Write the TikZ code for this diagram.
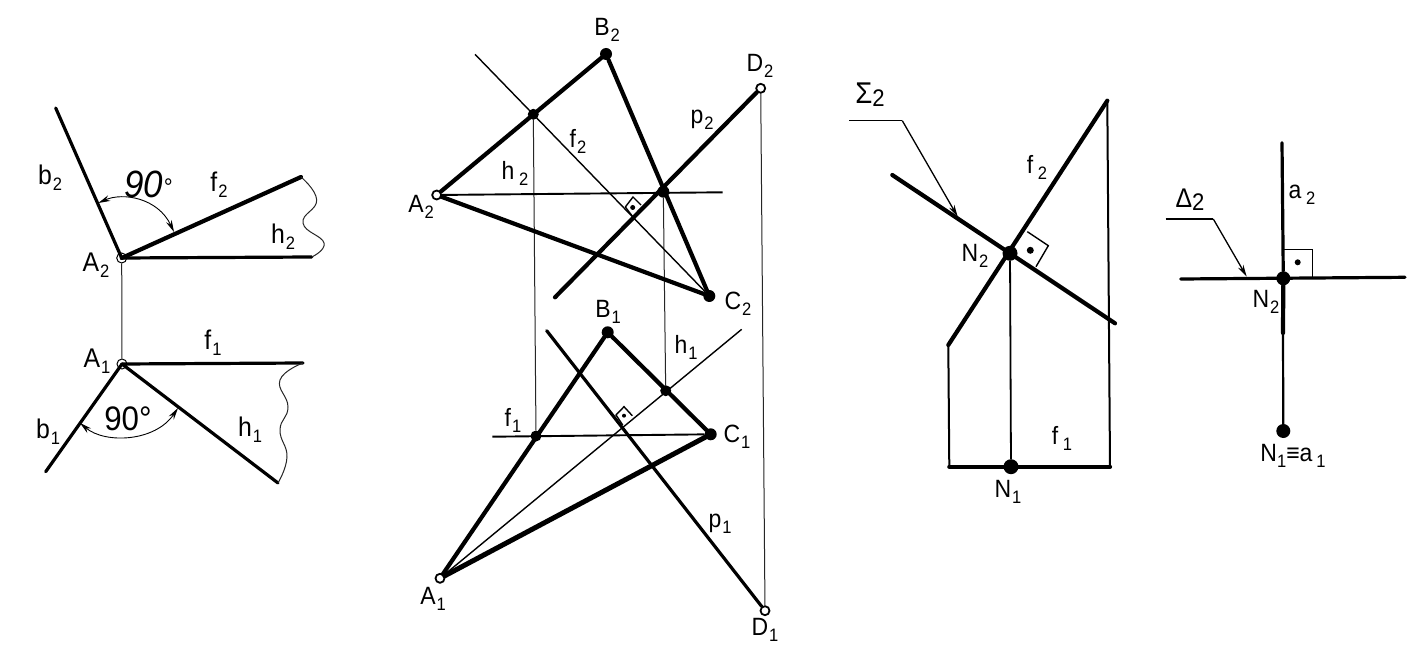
\documentclass[tikz,border=0pt]{standalone}
\usepackage{fontspec}
\setmainfont{Liberation Sans}
\usetikzlibrary{arrows.meta}
\newcommand{\lbl}[2]{{\fontsize{27}{27}\selectfont #1\hspace{1pt}\raisebox{-6pt}{\fontsize{18}{18}\selectfont #2}}}
\newcommand{\lbs}[2]{{\fontsize{25}{25}\selectfont #1\hspace{1pt}\raisebox{-6pt}{\fontsize{18}{18}\selectfont #2}}}
\tikzset{
  thickl/.style={line width=4.2pt,line cap=round,black},
  medl/.style={line width=3.2pt,line cap=round,black},
  thinl/.style={line width=1.4pt,black},
  hair/.style={line width=1pt,black!85},
  dotn/.style={circle,fill=black,inner sep=0pt,minimum size=#1},
  opn/.style={circle,draw=black,fill=white,line width=1.8pt,inner sep=0pt,minimum size=9pt},
  opt/.style={circle,draw=black,line width=1pt,inner sep=0pt,minimum size=10pt},
  txt/.style={inner sep=0pt,black,xscale=0.92},
  tip/.style={-{Stealth[length=12pt,width=6pt]},line width=1.3pt},
  arcl/.style={{Stealth[length=12pt,width=6pt]}-{Stealth[length=12pt,width=6pt]},line width=0.9pt},
}
\begin{document}
\begin{tikzpicture}[x=1pt,y=-1pt]
\useasboundingbox[fill=white] (0,0) rectangle (1422,660);
% --- first figure
\node[opt] (LA2) at (121.7,258) {};
\node[opt] (LA1) at (122,364) {};
\coordinate (Lb2) at (55.7,108);
\coordinate (Lf2) at (301,177);
\coordinate (Lh2) at (311.7,257);
\coordinate (Lf1) at (303,363);
\coordinate (Lb1) at (45.7,471.7);
\coordinate (Lh1) at (278,483);
\coordinate (Law) at (98.3,203);
\coordinate (Lax) at (174,232);
\coordinate (Lbw) at (80,423);
\coordinate (Lbx) at (178,408);
\draw[hair] (LA2) -- (LA1);
\draw[medl] (Lb2) -- (LA2.center);
\draw[thickl] (Lf2) -- (LA2.center);
\draw[medl] (Lh2) -- (LA2.center);
\draw[medl] (Lf1) -- (LA1.center);
\draw[medl] (Lb1) -- (LA1.center);
\draw[medl] (Lh1) -- (LA1.center);
\draw[hair] plot[smooth,tension=0.8] coordinates {(Lf2) (316.7,200) (303,223) (324,243) (Lh2)};
\draw[hair] plot[smooth,tension=0.8] coordinates {(Lf1) (280,380) (288,407) (280,430) (287,457) (Lh1)};
\draw[arcl] (Law) .. controls (123,192) and (158,198) .. (Lax);
\draw[arcl] (Lbw) .. controls (105,444) and (155,442) .. (Lbx);
\node[txt] (tb2) at (50,178) {\lbl{b}{2}};
\node[txt] (t90a) at (148,184) {\fontsize{38}{38}\selectfont\itshape 90\raisebox{2pt}{\fontsize{24}{24}\selectfont °}};
\node[txt] (tf2) at (219,185) {\lbl{f}{2}};
\node[txt] (th2) at (283,237) {\lbl{h}{2}};
\node[txt] (tA2) at (96,265) {\lbl{A}{2}};
\node[txt] (tf1) at (213,343) {\lbl{f}{1}};
\node[txt] (tA1) at (97,361) {\lbl{A}{1}};
\node[txt] (tb1) at (48,432) {\lbl{b}{1}};
\node[txt] (t90b) at (128,419) {\fontsize{34}{34}\selectfont 90°};
\node[txt] (th1) at (250,430) {\lbl{h}{1}};
% --- second figure
\node[opn] (A2) at (436.7,195) {};
\node[dotn=12pt] (B2) at (606,54) {};
\node[dotn=12pt] (C2) at (709.3,296) {};
\node[opn] (D2) at (760.7,88.3) {};
\node[dotn=11pt] (P2) at (533.3,114.3) {};
\node[dotn=12pt] (Q2) at (663.3,191.7) {};
\coordinate (f2t) at (475,54.3);
\coordinate (h2e) at (722.7,192.3);
\coordinate (p2e) at (555,297.3);
\node[opn] (A1) at (440,578.3) {};
\node[dotn=12pt] (B1) at (607.7,332.3) {};
\node[dotn=12pt] (C1) at (710.7,434.3) {};
\node[opn] (D1) at (765,610.7) {};
\node[dotn=11pt] (R1) at (536,436) {};
\node[dotn=11pt] (S1) at (665.7,390.7) {};
\coordinate (p1t) at (546.7,330.7);
\coordinate (h1e) at (741.7,329.3);
\coordinate (f1l) at (492.3,436.7);
\draw[hair] (P2) -- (R1);
\draw[hair] (Q2) -- (S1);
\draw[hair] (D2) -- (D1);
\draw[thickl] (A2) -- (B2);
\draw[thickl] (B2) -- (C2);
\draw[thickl] (A2) -- (C2);
\draw[thinl] (f2t) -- (C2);
\draw[line width=1.9pt] (A2) -- (h2e);
\draw[thickl] (D2) -- (p2e);
\draw[thickl] (A1) -- (B1);
\draw[thickl] (B1) -- (C1);
\draw[line width=5pt,line cap=round] (A1) -- (C1);
\draw[medl] (p1t) -- (D1);
\draw[thinl] (A1) -- (h1e);
\draw[line width=1.9pt] (f1l) -- (C1);
\draw[thinl] (625.3,207) -- (633,197) -- (641,205);
\draw[thinl] (633,217) -- (625.3,207);
\node[dotn=5pt] (m1) at (632.7,207.5) {};
\draw[thinl] (622.7,425) -- (616,415) -- (624,406.7) -- (632.3,415.7);
\node[dotn=4pt] (m2) at (624,415.7) {};
\node[txt] (tB2) at (607,30) {\lbs{B}{2}};
\node[txt] (tD2) at (760,66) {\lbs{D}{2}};
\node[txt] (tp2) at (702,120) {\lbs{p}{2}};
\node[txt] (tf2m) at (578,141) {\lbs{f}{2}};
\node[txt] (th2m) at (515,173) {\lbs{h\,}{2}};
\node[txt] (tA2m) at (421,207) {\lbs{A}{2}};
\node[txt] (tC2m) at (738,304) {\lbs{C}{2}};
\node[txt] (tB1m) at (608,312) {\lbs{B}{1}};
\node[txt] (th1m) at (686,347) {\lbs{h}{1}};
\node[txt] (tf1m) at (513,420) {\lbs{f}{1}};
\node[txt] (tC1m) at (737,437) {\lbs{C}{1}};
\node[txt] (tp1m) at (720,524) {\lbs{p}{1}};
\node[txt] (tA1m) at (433,599) {\lbs{A}{1}};
\node[txt] (tD1m) at (765,630) {\lbs{D}{1}};
% --- third figure
\node[dotn=15pt] (N2) at (1010,253.3) {};
\node[dotn=15pt] (N1) at (1011,466.7) {};
\coordinate (ft) at (1107.3,100.7);
\coordinate (fb) at (948.3,345);
\coordinate (bl) at (949.3,466.7);
\coordinate (br) at (1110,466.7);
\coordinate (s1) at (892.3,175);
\coordinate (s2) at (1115,323.3);
\coordinate (la) at (849.3,120.7);
\coordinate (lb) at (902.3,120.7);
\coordinate (lc) at (957.7,216.7);
\draw[thickl] (s1) -- (s2);
\draw[thickl] (ft) -- (fb);
\draw[line width=2pt,line join=miter] (fb) -- (bl);
\draw[thickl] (bl) -- (br);
\draw[line width=2pt] (ft) -- (br);
\draw[line width=1.8pt] (N2) -- (N1);
\draw[line width=1.4pt] (la) -- (lb);
\draw[tip] (lb) -- (lc);
\draw[thinl] (1027.3,231.7) -- (1048.3,245.7) -- (1036,266.7);
\node[dotn=7pt] (m3) at (1030.3,250.3) {};
\node[txt] (tS) at (870,95) {{\fontsize{30}{30}\selectfont Σ\raisebox{-3pt}{\fontsize{24}{24}\selectfont 2}}};
\node[txt] (tf2r) at (1037,167) {\lbs{f\,}{2}};
\node[txt] (tN2r) at (975,256) {\lbs{N}{2}};
\node[txt] (tf1r) at (1062,438) {\lbs{f\,}{1}};
\node[txt] (tN1r) at (1008,492) {\lbs{N}{1}};
% --- fourth figure
\node[dotn=14pt] (M2) at (1283.3,278.3) {};
\node[dotn=14pt] (M1) at (1283.3,431) {};
\coordinate (at) at (1282,142.7);
\coordinate (hl) at (1180.7,279);
\coordinate (hr) at (1405,277.3);
\coordinate (ll) at (1165.7,219);
\coordinate (lm) at (1213.3,219);
\coordinate (lt) at (1246.7,276.7);
\coordinate (am) at (1283,333);
\draw[medl] (hl) -- (hr);
\draw[medl] (at) -- (M2);
\draw[thickl] (M2) -- (am);
\draw[line width=2.2pt] (am) -- (M1);
\draw[line width=1.4pt] (ll) -- (lm);
\draw[tip] (lm) -- (lt);
\draw[thinl] (1284,249.3) -- (1312.3,249.3) -- (1312.3,276.7);
\node[dotn=6pt] (m4) at (1297.7,262.3) {};
\node[txt] (tD) at (1190,200) {{\fontsize{27}{27}\selectfont Δ\raisebox{-3pt}{\fontsize{24}{24}\selectfont 2}}};
\node[txt] (ta2) at (1302,195) {\lbs{a\,}{2}};
\node[txt] (tN2f) at (1266,302) {\lbs{N}{2}};
\node[txt] (tN1f) at (1293,456) {{\fontsize{25}{25}\selectfont N\raisebox{-6pt}{\fontsize{18}{18}\selectfont 1}≡a\,\raisebox{-6pt}{\fontsize{18}{18}\selectfont 1}}};
\end{tikzpicture}
\end{document}
